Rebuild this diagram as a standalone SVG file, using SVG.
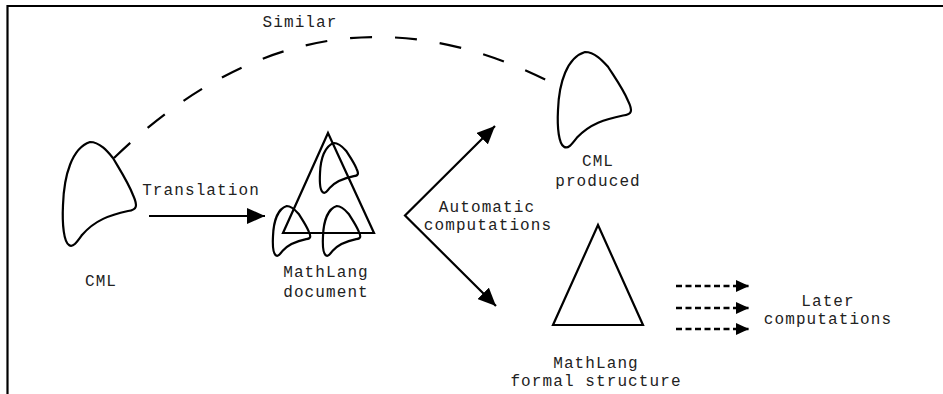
<svg xmlns="http://www.w3.org/2000/svg" width="943" height="394" viewBox="0 0 943 394">
<style>
.frame{stroke:#000;stroke-width:2.2;fill:none}
.shape{fill:none;stroke:#000;stroke-width:2.2;stroke-linejoin:miter}
.blob{fill:none;stroke:#000;stroke-width:2.2}
.conn{fill:none;stroke:#000;stroke-width:2.2}
.dash{fill:none;stroke:#000;stroke-width:2.2;stroke-dasharray:22 23}
.dot{fill:none;stroke:#000;stroke-width:2.4;stroke-dasharray:6 3.5}
text{font-family:"Liberation Mono","Courier New",monospace;font-size:16px;letter-spacing:1.1px;fill:#222;text-anchor:middle}
</style>
<defs>
<path id="blob" vector-effect="non-scaling-stroke" d="M27,0 C37,0 45,10 50,16 C57,28 65,40 70,53 C75,64 74,68 65,69 C47,73 32,78 19,93 C14,100 10,106 6,103 C1,100 -1,83 0,63 C1,33 9,6 27,0 Z"/>
<marker id="ah" markerUnits="userSpaceOnUse" markerWidth="18" markerHeight="16" refX="18" refY="8" orient="auto-start-reverse">
<path d="M0,0 L18,8 L0,16 Z" fill="#000"/>
</marker>
<marker id="ahs" markerUnits="userSpaceOnUse" markerWidth="13" markerHeight="12" refX="13" refY="6" orient="auto">
<path d="M0,0 L13,6 L0,12 Z" fill="#000"/>
</marker>
</defs>
<g id="frame">
<line class="frame" x1="7.5" y1="6" x2="943" y2="6"/>
<line class="frame" x1="7.5" y1="5" x2="7.5" y2="394"/>
</g>
<g id="cml">
<use href="#blob" class="blob" transform="translate(63,142)"/>
<text x="101" y="286">CML</text>
</g>
<g id="mathlang-document">
<path class="shape" d="M328,133 L374,233 L283,233 Z"/>
<use href="#blob" class="blob" transform="translate(320,143) scale(0.52,0.48)"/>
<use href="#blob" class="blob" transform="translate(273,206) scale(0.51,0.48)"/>
<use href="#blob" class="blob" transform="translate(323,206) scale(0.51,0.48)"/>
<text x="326" y="277">MathLang</text>
<text x="326" y="297">document</text>
</g>
<g id="cml-produced">
<use href="#blob" class="blob" transform="translate(558,52) scale(1,0.92)"/>
<text x="598" y="166">CML</text>
<text x="598" y="186">produced</text>
</g>
<g id="formal-structure">
<path class="shape" d="M598,225 L643,325 L553,325 Z"/>
<text x="596" y="368">MathLang</text>
<text x="596" y="386">formal structure</text>
</g>
<g id="later-computations">
<text x="828" y="306">Later</text>
<text x="828" y="324">computations</text>
</g>
<g id="connectors">
<path class="dash" d="M114,158 Q315,-36 548,81"/>
<text x="300" y="27">Similar</text>
<line class="conn" x1="149" y1="216" x2="265" y2="216" marker-end="url(#ah)"/>
<text x="201" y="195">Translation</text>
<path class="conn" d="M495,126 L405,215.5 L496,306" marker-start="url(#ah)" marker-end="url(#ah)"/>
<text x="487" y="212">Automatic</text>
<text x="488" y="230">computations</text>
<line class="dot" x1="676" y1="286" x2="749" y2="286" marker-end="url(#ahs)"/>
<line class="dot" x1="676" y1="308" x2="749" y2="308" marker-end="url(#ahs)"/>
<line class="dot" x1="676" y1="329" x2="749" y2="329" marker-end="url(#ahs)"/>
</g>
</svg>
